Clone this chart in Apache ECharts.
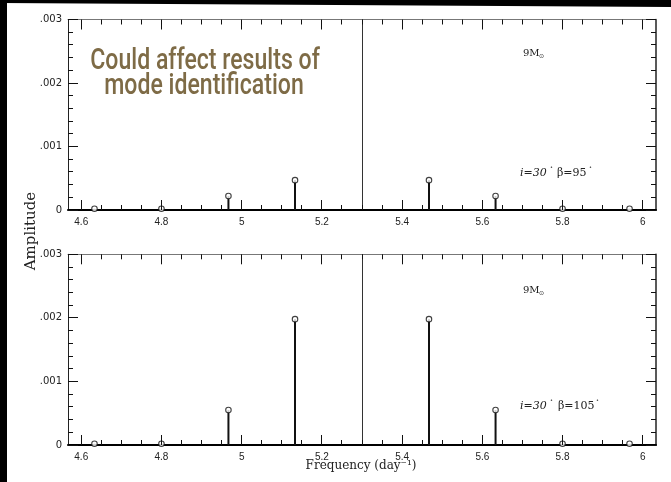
<!DOCTYPE html>
<html>
<head>
<meta charset="utf-8">
<script src="https://cdn.jsdelivr.net/npm/echarts@6/dist/echarts.min.js"></script>
<style>
html,body{margin:0;padding:0;background:#fff;}
#c{width:671px;height:482px;}
</style>
</head>
<body>
<div id="c"></div>
<script>
// ---- data ----
const freqs = [4.633, 4.8, 4.967, 5.133, 5.467, 5.633, 5.8, 5.967];
const ampTop = [0.00002, 0.00002, 0.00022, 0.00047, 0.00047, 0.00022, 0.00002, 0.00002];
const ampBottom = [0.00002, 0.00002, 0.00055, 0.00198, 0.00198, 0.00055, 0.00002, 0.00002];
const xTickValues = [4.6, 4.8, 5.0, 5.2, 5.4, 5.6, 5.8, 6.0];
const xTickLabels = ['4.6', '4.8', '5', '5.2', '5.4', '5.6', '5.8', '6'];
const yTickValues = [0, 0.001, 0.002, 0.003];
const yTickLabels = ['0', '.001', '.002', '.003'];
const centerFreq = 5.3;
const massLabel = '9M';
const incLabel = 'i=30';
const betaLabels = ['β=95', 'β=105'];

// ---- tick sets (major + subdivided minor) ----
function subdivide(majors, n) {
  const out = [];
  for (let i = 0; i < majors.length - 1; i++) {
    for (let k = 1; k < n; k++) out.push(majors[i] + (majors[i + 1] - majors[i]) * k / n);
  }
  return out;
}
const MAJOR_LEN = 10, MINOR_LEN = 5;
const xTicks = xTickValues.map(v => [v, MAJOR_LEN]).concat(subdivide(xTickValues, 4).map(v => [v, MINOR_LEN]));
const yTicks = yTickValues.map(v => [v, MAJOR_LEN]).concat(subdivide(yTickValues, 5).map(v => [v, MINOR_LEN]));

// ---- layout ----
const X_MIN = 4.567, X_MAX = 6.033;
const Y_MAX = yTickValues[yTickValues.length - 1];
const PLOT_LEFT = 68, PLOT_W = 588;
const pxPerUnit = PLOT_W / (X_MAX - X_MIN);
const TICK_MIN = xTickValues[0], TICK_MAX = xTickValues[xTickValues.length - 1];
const tickLeft = PLOT_LEFT + (TICK_MIN - X_MIN) * pxPerUnit;
const tickW = (TICK_MAX - TICK_MIN) * pxPerUnit;
const panels = [{top: 19.5, height: 190.5}, {top: 254.3, height: 190.7}];
const TICK_COLOR = '#111';

const grids = [], xAxes = [], yAxes = [], series = [];
panels.forEach((p, g) => {
  grids.push({left: PLOT_LEFT, width: PLOT_W, top: p.top, height: p.height});
  grids.push({left: tickLeft, width: tickW, top: p.top, height: p.height});
  const mg = g * 2, tg = g * 2 + 1;
  xAxes.push({type: 'value', gridIndex: mg, min: X_MIN, max: X_MAX, position: 'bottom',
    axisLine: {show: true, onZero: false, lineStyle: {color: '#000', width: 2}},
    axisTick: {show: false}, axisLabel: {show: false}, splitLine: {show: false}});
  xAxes.push({type: 'value', gridIndex: mg, min: X_MIN, max: X_MAX, position: 'top',
    axisLine: {show: true, onZero: false, lineStyle: {color: '#777', width: 1}},
    axisTick: {show: false}, axisLabel: {show: false}, splitLine: {show: false}});
  xAxes.push({type: 'value', gridIndex: tg, min: TICK_MIN, max: TICK_MAX, interval: 0.2, position: 'bottom',
    axisLine: {show: false, onZero: false}, axisTick: {show: false}, splitLine: {show: false},
    axisLabel: {show: true, margin: 7, color: '#222', fontFamily: 'Liberation Sans', fontSize: 10,
      formatter: v => { const i = xTickValues.findIndex(t => Math.abs(t - v) < 1e-6); return i >= 0 ? xTickLabels[i] : ''; }}});
  const yBase = {type: 'value', gridIndex: mg, min: 0, max: Y_MAX, interval: 0.001,
    splitLine: {show: false}, minorSplitLine: {show: false}, axisTick: {show: false}};
  yAxes.push(Object.assign({}, yBase, {position: 'left',
    axisLine: {show: true, lineStyle: {color: '#222', width: 1}},
    axisLabel: {show: true, margin: 6, color: '#222', fontFamily: 'DejaVu Sans', fontSize: 10,
      formatter: v => { const i = yTickValues.findIndex(t => Math.abs(t - v) < 1e-9); return i >= 0 ? yTickLabels[i] : ''; }}}));
  yAxes.push(Object.assign({}, yBase, {position: 'right',
    axisLine: {show: true, lineStyle: {color: '#222', width: 1.5}},
    axisLabel: {show: false}}));
  yAxes.push({type: 'value', gridIndex: tg, min: 0, max: Y_MAX, show: false});

  const amps = g === 0 ? ampTop : ampBottom;
  const pts = freqs.map((f, i) => [f, amps[i]]);
  const xi = g * 3, yi = g * 3;
  series.push({
    type: 'bar', xAxisIndex: xi, yAxisIndex: yi, data: pts, barWidth: 2,
    itemStyle: {color: '#111'}, silent: true,
    markLine: {silent: true, symbol: ['none', 'none'], label: {show: false},
      lineStyle: {color: '#333', width: 1, type: 'solid'}, data: [{xAxis: centerFreq}]}
  });
  series.push({
    type: 'scatter', xAxisIndex: xi, yAxisIndex: yi, data: pts, symbol: 'circle', symbolSize: 5.5,
    itemStyle: {color: '#fff', borderColor: '#111', borderWidth: 1.1}, silent: true, z: 5
  });
});

function txt(x, y, text, font) {
  return {type: 'text', x: x, y: y, z: 60,
    style: {text: text, fill: '#222', font: font, textVerticalAlign: 'middle', verticalAlign: 'middle'}};
}
const baseGraphic = [
  {type: 'rect', shape: {x: 0, y: 0, width: 7, height: 482}, style: {fill: '#000'}, z: 100},
  {type: 'polygon', shape: {points: [[0, 0], [671, 0], [671, 7], [0, 3]]}, style: {fill: '#000'}, z: 100},
  {type: 'text', x: 31, y: 231, rotation: Math.PI / 2,
    style: {text: 'Amplitude', fill: '#222', font: '15px "DejaVu Serif"', textAlign: 'center', align: 'center', textVerticalAlign: 'middle', verticalAlign: 'middle'}},
  {type: 'text', x: 361, y: 466,
    style: {text: 'Frequency (day⁻¹)', fill: '#222', font: '12px "DejaVu Serif"', textAlign: 'center', align: 'center', textVerticalAlign: 'middle', verticalAlign: 'middle'}},
  {type: 'text', x: 205, y: 61, scaleX: 0.77, z: 50,
    style: {text: 'Could affect results of', fill: '#7e6b46', font: '500 30px Roboto', textAlign: 'center', align: 'center', textVerticalAlign: 'middle', verticalAlign: 'middle'}},
  {type: 'text', x: 204, y: 86, scaleX: 0.77, z: 50,
    style: {text: 'mode identification', fill: '#7e6b46', font: '500 30px Roboto', textAlign: 'center', align: 'center', textVerticalAlign: 'middle', verticalAlign: 'middle'}}
];
[[53, 173, 550, 557, 589], [290, 406, 550, 558, 596]].forEach((a, g) => {
  baseGraphic.push(txt(523, a[0], massLabel, '10px "DejaVu Serif"'));
  baseGraphic.push(txt(539, a[0] + 3, '⊙', '6px "DejaVu Sans"'));
  baseGraphic.push(txt(520, a[1], incLabel, 'italic 11px "DejaVu Serif"'));
  baseGraphic.push(txt(a[2], a[1] - 5, '•', '5px "DejaVu Sans"'));
  baseGraphic.push(txt(a[3], a[1], betaLabels[g], '11px "DejaVu Serif"'));
  baseGraphic.push(txt(a[4], a[1] - 5, '•', '5px "DejaVu Sans"'));
});

const chart = echarts.init(document.getElementById('c'), null, {renderer: 'canvas'});
chart.setOption({
  animation: false,
  backgroundColor: '#fff',
  grid: grids,
  xAxis: xAxes,
  yAxis: yAxes,
  series: series,
  graphic: baseGraphic
});

// ---- ticks on all four sides, placed through the axes' own scales ----
function crisp(v) { return Math.round(v - 0.5) + 0.5; }
const tickGraphic = [];
const st = {stroke: TICK_COLOR, lineWidth: 1};
panels.forEach((p, g) => {
  const finder = {xAxisIndex: g * 3, yAxisIndex: g * 3};
  const bl = chart.convertToPixel(finder, [X_MIN, 0]);
  const tr = chart.convertToPixel(finder, [X_MAX, Y_MAX]);
  const left = bl[0], bottom = bl[1], right = tr[0], top = tr[1];
  xTicks.forEach(t => {
    const px = crisp(chart.convertToPixel(finder, [t[0], 0])[0]);
    tickGraphic.push({type: 'line', z: 40, silent: true, shape: {x1: px, y1: bottom, x2: px, y2: bottom - t[1]}, style: st});
    tickGraphic.push({type: 'line', z: 40, silent: true, shape: {x1: px, y1: top, x2: px, y2: top + t[1]}, style: st});
  });
  yTicks.forEach(t => {
    const py = crisp(chart.convertToPixel(finder, [X_MIN, t[0]])[1]);
    tickGraphic.push({type: 'line', z: 40, silent: true, shape: {x1: left, y1: py, x2: left + t[1], y2: py}, style: st});
    tickGraphic.push({type: 'line', z: 40, silent: true, shape: {x1: right, y1: py, x2: right - t[1], y2: py}, style: st});
  });
});
chart.setOption({graphic: baseGraphic.concat(tickGraphic)});
</script>
</body>
</html>
